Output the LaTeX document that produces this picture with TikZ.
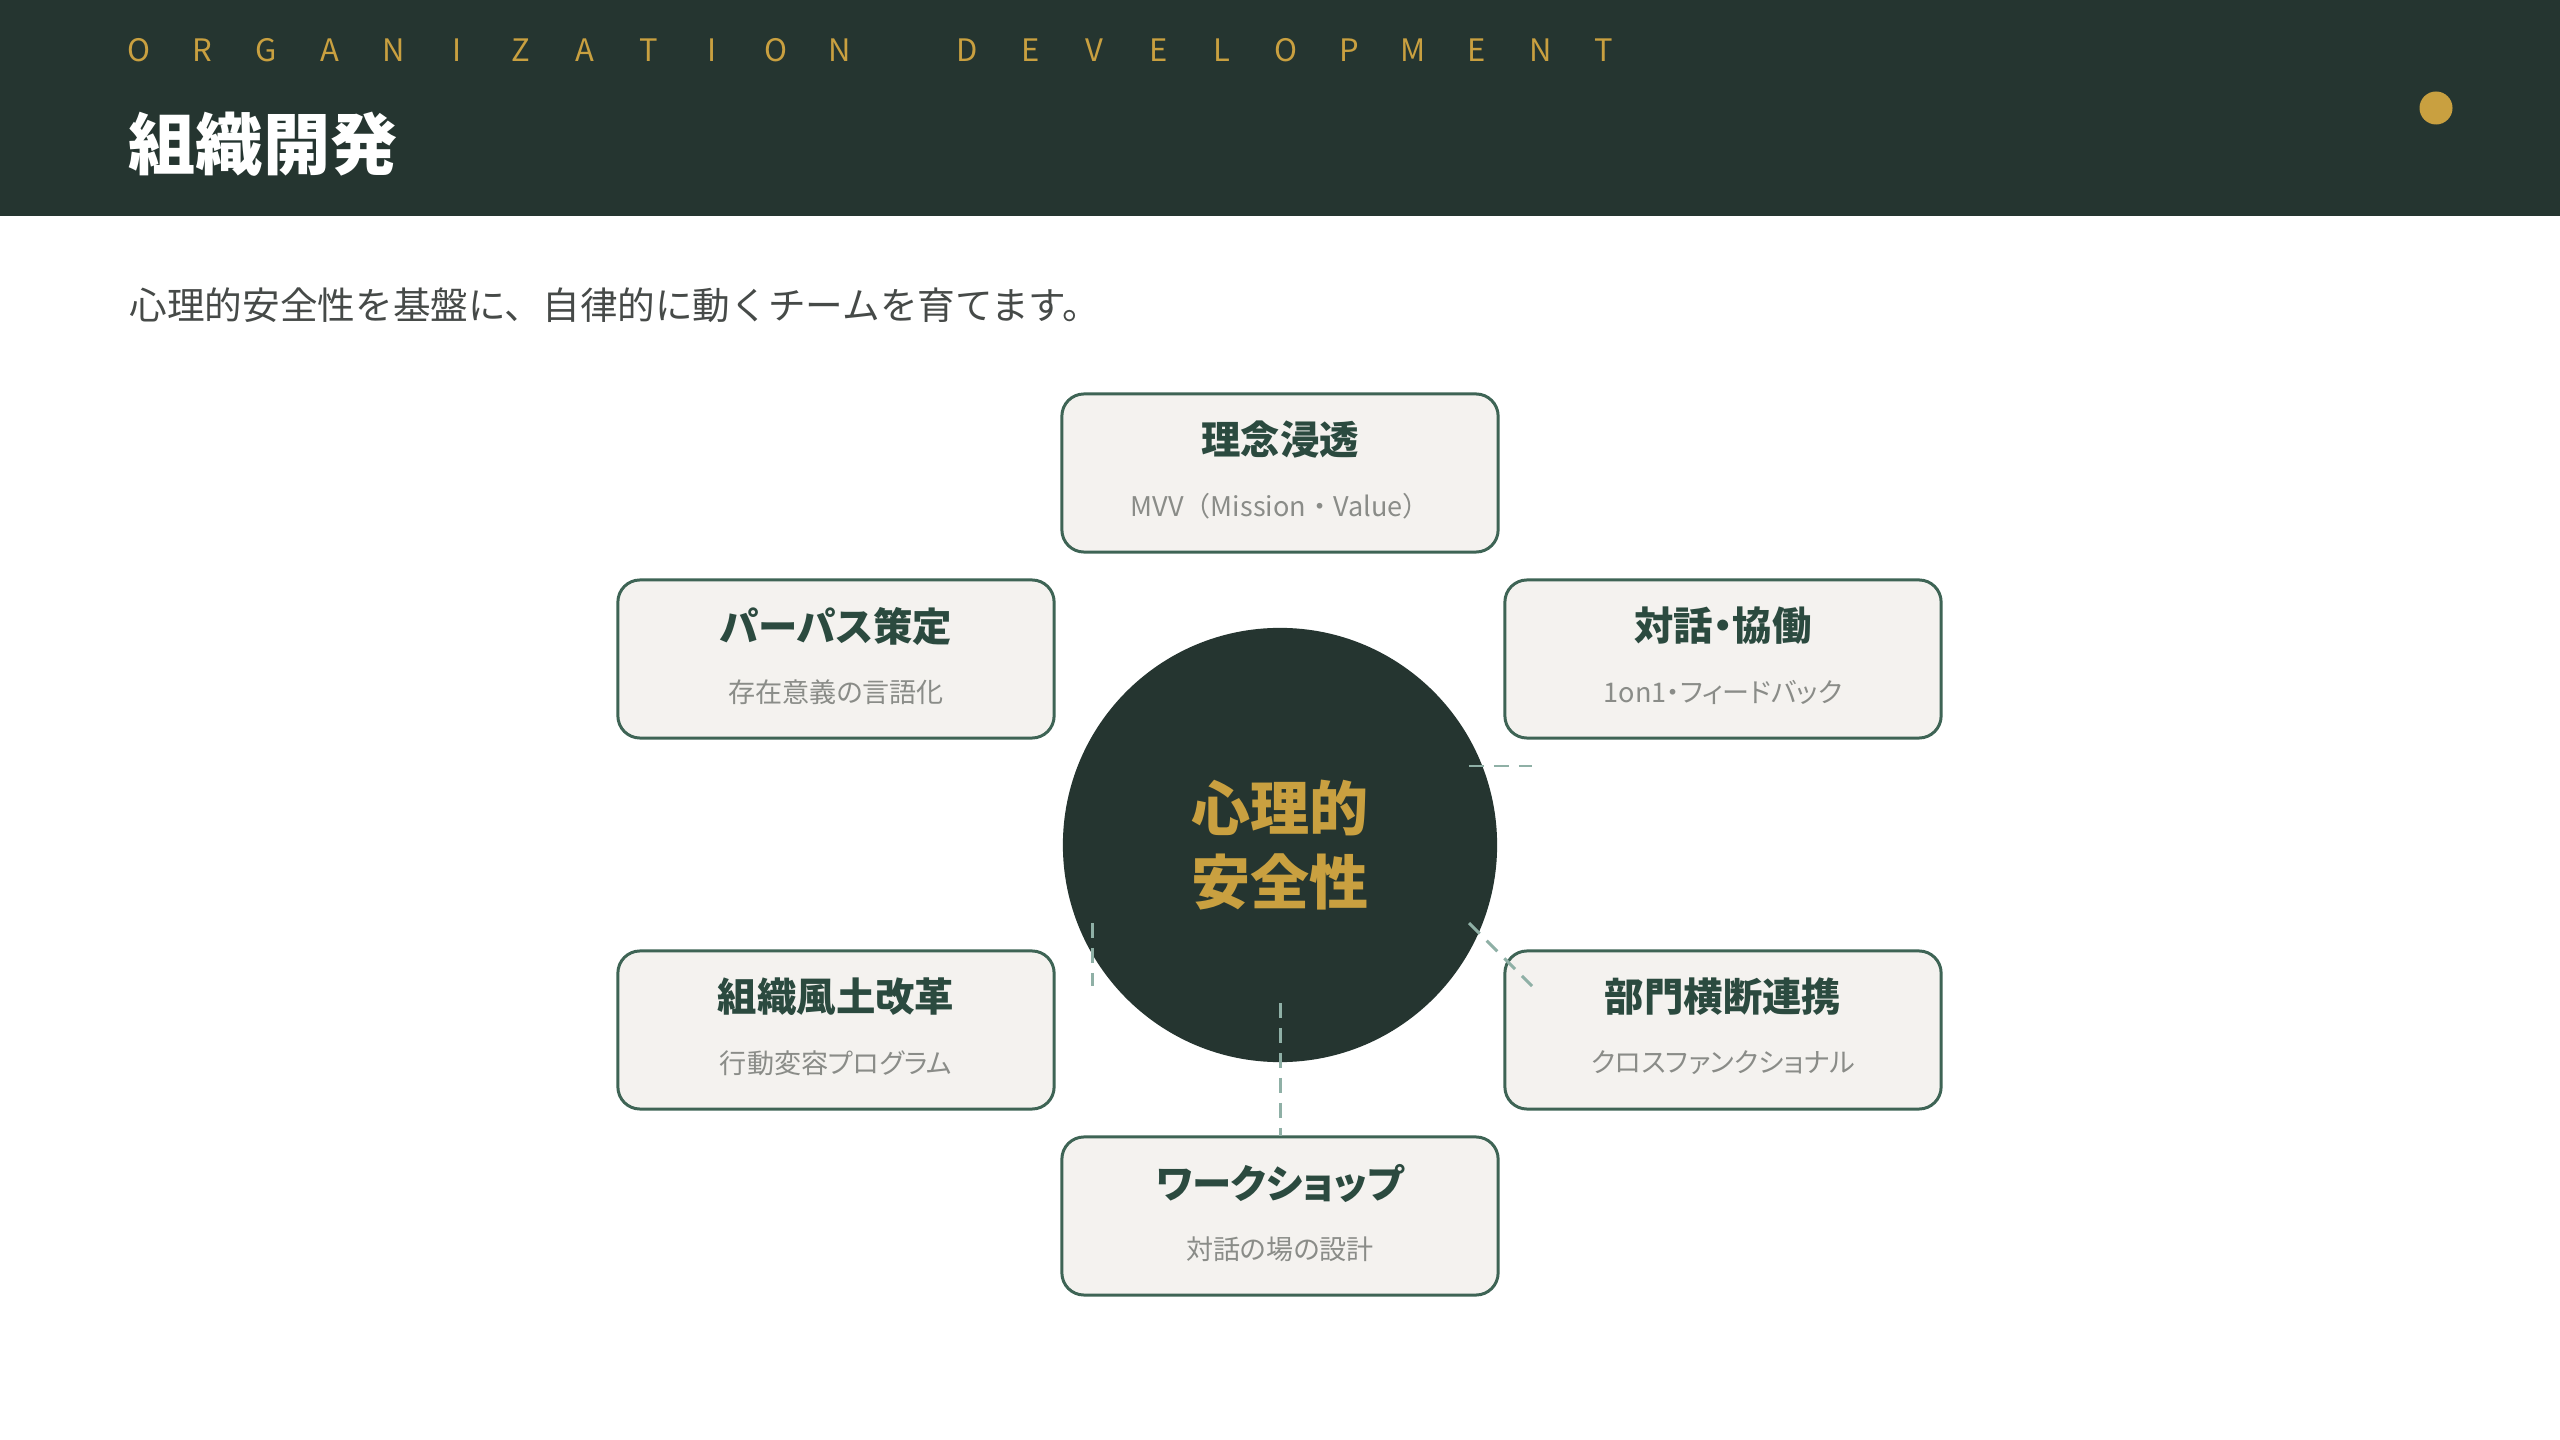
\documentclass[tikz,border=0pt]{standalone}
\usepackage{fontspec}
\setmainfont{Noto Sans CJK JP}
\newfontfamily\kanafont{Noto Sans CJK JP}[RawFeature=+palt]
\definecolor{hdrgreen}{HTML}{253530}
\definecolor{gold}{HTML}{C9A040}
\definecolor{boxline}{HTML}{3E6455}
\definecolor{boxfill}{HTML}{F4F2EF}
\definecolor{boxtitle}{HTML}{2B4A3F}
\definecolor{subgray}{HTML}{8A8C88}
\definecolor{leadgray}{HTML}{464A48}
\definecolor{dashcol}{HTML}{8FB0A6}

\begin{document}
\begin{tikzpicture}[x=0.01cm, y=-0.01cm,
  card/.style={draw=boxline, line width=0.85pt, fill=boxfill, rounded corners=6.3pt,
    minimum width=4.36cm, minimum height=1.58cm, inner sep=0},
  cardtitle/.style={text=boxtitle, font=\kanafont\bfseries\fontsize{11.2pt}{13pt}\selectfont, inner sep=0},
  cardsub/.style={text=subgray, font=\kanafont\fontsize{7.7pt}{9pt}\selectfont, inner sep=0},
  cardsubplain/.style={cardsub, font=\normalfont\fontsize{7.7pt}{9pt}\selectfont},
  link/.style={draw=dashcol, line width=0.85pt, dash pattern=on 4.3pt off 2.8pt}]
  \useasboundingbox (0,0) rectangle (2560,1440);
  \fill[white] (0,0) rectangle (2560,1440);
  \fill[hdrgreen] (0,0) rectangle (2560,216);
  % header
  \foreach \ch [count=\i from 0] in {O,R,G,A,N,I,Z,A,T,I,O,N,,D,E,V,E,L,O,P,M,E,N,T}
    \node[text=gold, font=\fontsize{8.8pt}{10pt}\selectfont, inner sep=0, anchor=base] (h\i) at (139+63.7*\i, 62) {\ch};
  \node[text=white, font=\bfseries\fontsize{19.1pt}{23pt}\selectfont, inner sep=0, anchor=west] (title) at (128, 144) {組織開発};
  \node[circle, fill=gold, minimum size=0.33cm, inner sep=0] (dot) at (2436, 108) {};
  \node[text=leadgray, font=\fontsize{10.7pt}{12pt}\selectfont, inner sep=0, anchor=west] (lead) at (129, 305) {心理的安全性を基盤に、自律的に動くチームを育てます。};
  % centre
  \node[circle, fill=hdrgreen, minimum size=4.34cm, inner sep=0, text=gold, align=center,
    font=\bfseries\fontsize{16.8pt}{21pt}\selectfont] (core) at (1280, 845) {心理的\\安全性};
  % cards
  \node[card] (vision) at (1280, 473) {};
  \node[cardtitle] (vision-t) at (1280, 440) {理念浸透};
  \node[cardsubplain] (vision-s) at (1280, 506) {MVV（Mission・Value）};
  \node[card] (purpose) at (836, 659) {};
  \node[cardtitle] (purpose-t) at (836, 626) {パーパス策定};
  \node[cardsub] (purpose-s) at (836, 692) {存在意義の言語化};
  \node[card] (dialog) at (1723, 659) {};
  \node[cardtitle] (dialog-t) at (1723, 626) {対話・協働};
  \node[cardsub] (dialog-s) at (1723, 692) {1on1・フィードバック};
  \node[card] (culture) at (836, 1030) {};
  \node[cardtitle] (culture-t) at (836, 997) {組織風土改革};
  \node[cardsub] (culture-s) at (836, 1063) {行動変容プログラム};
  \node[card] (cross) at (1723, 1030) {};
  \node[cardtitle] (cross-t) at (1723, 997) {部門横断連携};
  \node[cardsub] (cross-s) at (1723, 1063) {クロスファンクショナル};
  \node[card] (workshop) at (1280, 1216) {};
  \node[cardtitle] (workshop-t) at (1280, 1183) {ワークショップ};
  \node[cardsub] (workshop-s) at (1280, 1249) {対話の場の設計};
  % dashed links
  \coordinate (l1a) at (1469, 766);
  \coordinate (l1b) at (1532, 766);
  \coordinate (l2a) at (1469, 923);
  \coordinate (l2b) at (1532, 986);
  \coordinate (l3a) at (1092, 923);
  \coordinate (l3b) at (1092, 986);
  \coordinate (l4a) at (1280, 1003);
  \coordinate (l4b) at (1280, 1136);
  \draw[link] (l1a) -- (l1b);
  \draw[link] (l2a) -- (l2b);
  \draw[link] (l3a) -- (l3b);
  \draw[link] (l4a) -- (l4b);
\end{tikzpicture}
\end{document}
